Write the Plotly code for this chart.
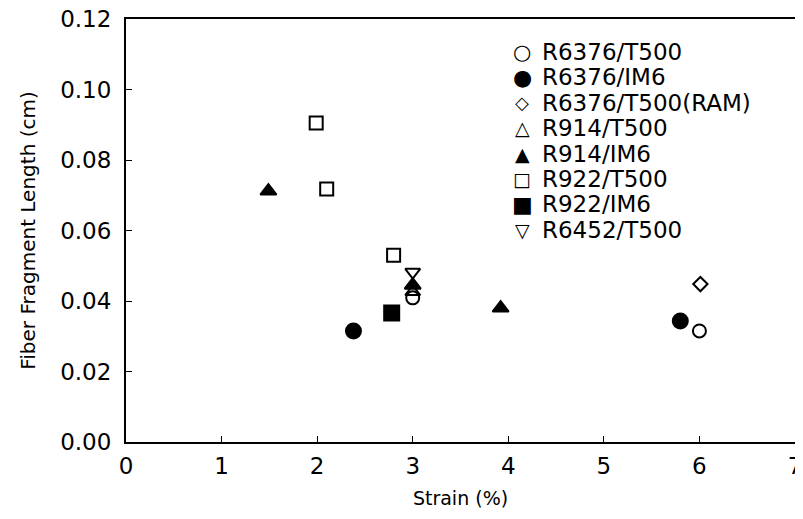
import plotly.graph_objects as go

series_names = ["R6376/T500", "R6376/IM6", "R6376/T500(RAM)", "R914/T500",
                "R914/IM6", "R922/T500", "R922/IM6", "R6452/T500"]
legend_glyphs = ["○", "●", "◇", "△", "▲", "□", "■", "▽"]
x_r6376_t500 = [3.0, 6.0]
y_r6376_t500 = [0.0409, 0.0315]
x_r6376_im6 = [2.38, 5.8]
y_r6376_im6 = [0.0315, 0.0343]
x_r6376_ram = [6.01]
y_r6376_ram = [0.0448]
x_r914_t500 = [3.0]
y_r914_t500 = [0.0426]
x_r914_im6 = [1.49, 3.0, 3.92]
y_r914_im6 = [0.0712, 0.0445, 0.0380]
x_r922_t500 = [1.99, 2.1, 2.8]
y_r922_t500 = [0.0905, 0.0718, 0.0530]
x_r922_im6 = [2.78]
y_r922_im6 = [0.0366]
x_r6452_t500 = [3.0]
y_r6452_t500 = [0.0482]

xs = [x_r6376_t500, x_r6376_im6, x_r6376_ram, x_r914_t500, x_r914_im6, x_r922_t500, x_r922_im6, x_r6452_t500]
ys = [y_r6376_t500, y_r6376_im6, y_r6376_ram, y_r914_t500, y_r914_im6, y_r922_t500, y_r922_im6, y_r6452_t500]
symbols = ["circle-open", "circle", "diamond-open", "triangle-up-open", "triangle-up",
           "square-open", "square", "triangle-down-open"]
sizes = [13, 15, 11, 13, 14, 13, 15, 13]

# page has an 8px body margin; size the figure to fit the window
OFF = 8
W, H = 803 - OFF, 519 - OFF
ML, MR, MT, MB = 126 - OFF, 8, 19 - OFF, 77
PW, PH = W - ML - MR, H - MT - MB

fig = go.Figure()
for name, x, y, s, sz in zip(series_names, xs, ys, symbols, sizes):
    fig.add_trace(go.Scatter(
        x=x, y=y, mode="markers", name=name, showlegend=False,
        marker=dict(symbol=s, size=sz, color="black", line=dict(color="black", width=2)),
    ))

# legend built as text rows (glyph + label); positions in page pixels
leg_first_px, leg_step_px = 52, 25.4
glyph_x_px, text_x_px = 522, 540
glyph_sizes = [21, 22, 18, 19, 19, 19, 22, 19]
for i, (g, name) in enumerate(zip(legend_glyphs, series_names)):
    py = leg_first_px + i * leg_step_px - OFF
    yp = (H - MB - py) / PH
    fig.add_annotation(xref="paper", yref="paper", x=(glyph_x_px - OFF - ML) / PW, y=yp,
                       text=g, showarrow=False, xanchor="center", yanchor="middle",
                       font=dict(size=glyph_sizes[i], color="black"))
    fig.add_annotation(xref="paper", yref="paper", x=(text_x_px - OFF - ML) / PW, y=yp,
                       text=name, showarrow=False, xanchor="left", yanchor="middle",
                       font=dict(size=23, color="black"))

font_family = "DejaVu Sans, Liberation Sans, sans-serif"
fig.update_layout(
    width=W, height=H,
    paper_bgcolor="white", plot_bgcolor="white",
    margin=dict(l=ML, r=MR, t=MT, b=MB),
    font=dict(family=font_family, color="black", size=22),
    showlegend=False,
    xaxis=dict(range=[0, 7], tickvals=[0, 1, 2, 3, 4, 5, 6, 7], automargin=False,
               ticklabeloverflow="allow",
               showgrid=False, zeroline=False, showline=True, linecolor="black",
               linewidth=2, mirror=True, ticks="inside", ticklen=6, tickcolor="black",
               ticklabelstandoff=2,
               title=dict(text="Strain (%)", font=dict(size=19), standoff=14),
               tickfont=dict(size=23)),
    yaxis=dict(range=[0, 0.12], tickvals=[0, 0.02, 0.04, 0.06, 0.08, 0.10, 0.12],
               tickformat=".2f", automargin=False, ticklabeloverflow="allow",
               showgrid=False, zeroline=False, showline=True, linecolor="black",
               linewidth=2, mirror=True, ticks="inside", ticklen=6, tickcolor="black",
               ticklabelstandoff=8,
               title=dict(text="Fiber Fragment Length (cm)", font=dict(size=20), standoff=19),
               tickfont=dict(size=23)),
)

fig.write_html("out.html")
